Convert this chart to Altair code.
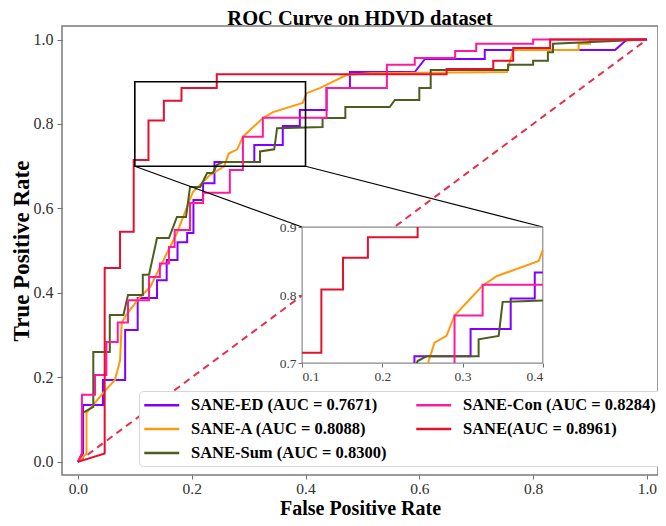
import altair as alt
import pandas as pd

TITLE = "ROC Curve on HDVD dataset"
X_TITLE = "False Positive Rate"
Y_TITLE = "True Positive Rate"

NAMES = ["SANE-ED (AUC = 0.7671)", "SANE-A (AUC = 0.8088)", "SANE-Sum (AUC = 0.8300)",
         "SANE-Con (AUC = 0.8284)", "SANE(AUC = 0.8961)"]
COLORS = ["#7F00FF", "#FF9A0F", "#4B5E1C", "#FF1A9C", "#E3102F"]

ed_x = [0.0, 0.009, 0.009, 0.044, 0.044, 0.083, 0.083, 0.105, 0.105, 0.139, 0.139, 0.156, 0.156, 0.175,
        0.175, 0.192, 0.192, 0.203, 0.203, 0.22, 0.22, 0.24, 0.24, 0.31, 0.31, 0.36, 0.36, 0.39, 0.39,
        0.437, 0.437, 0.478, 0.478, 0.592, 0.61, 0.715, 0.715, 0.944, 0.965, 1.0]
ed_y = [0.0, 0.02, 0.135, 0.135, 0.194, 0.194, 0.312, 0.312, 0.388, 0.388, 0.43, 0.43, 0.478, 0.478,
        0.52, 0.52, 0.542, 0.542, 0.62, 0.62, 0.66, 0.66, 0.71, 0.71, 0.75, 0.75, 0.795, 0.795, 0.833,
        0.833, 0.885, 0.885, 0.923, 0.923, 0.954, 0.954, 0.975, 0.975, 1.0, 1.0]

a_x = [0.0, 0.015, 0.015, 0.044, 0.065, 0.074, 0.077, 0.086, 0.109, 0.127, 0.139, 0.174, 0.202, 0.232,
       0.257, 0.265, 0.28, 0.29, 0.325, 0.343, 0.395, 0.402, 0.425, 0.472, 0.513, 0.754, 0.765, 0.88,
       0.88, 0.9, 0.9, 1.0]
a_y = [0.0, 0.02, 0.116, 0.163, 0.194, 0.24, 0.33, 0.35, 0.39, 0.414, 0.447, 0.542, 0.639, 0.679,
       0.70, 0.73, 0.74, 0.77, 0.814, 0.828, 0.85, 0.873, 0.885, 0.916, 0.92, 0.923, 0.975, 0.975,
       0.99, 0.99, 1.0, 1.0]

sum_x = [0.0, 0.007, 0.007, 0.027, 0.027, 0.056, 0.056, 0.08, 0.088, 0.114, 0.114, 0.125, 0.139, 0.16,
         0.174, 0.19, 0.197, 0.215, 0.227, 0.237, 0.244, 0.255, 0.32, 0.32, 0.345, 0.35, 0.43, 0.43,
         0.47, 0.47, 0.548, 0.557, 0.6, 0.6, 0.62, 0.62, 0.756, 0.756, 0.8, 0.8, 0.826, 0.826, 0.835,
         0.835, 1.0]
sum_y = [0.0, 0.02, 0.115, 0.13, 0.26, 0.26, 0.348, 0.348, 0.395, 0.395, 0.443, 0.443, 0.53, 0.53,
         0.58, 0.58, 0.651, 0.651, 0.684, 0.684, 0.703, 0.71, 0.71, 0.735, 0.74, 0.79, 0.793, 0.814,
         0.814, 0.84, 0.84, 0.857, 0.857, 0.885, 0.885, 0.928, 0.928, 0.94, 0.94, 0.95, 0.95, 0.97,
         0.97, 0.99, 1.0]

con_x = [0.0, 0.007, 0.007, 0.03, 0.03, 0.05, 0.05, 0.07, 0.07, 0.088, 0.088, 0.125, 0.125, 0.144,
         0.144, 0.16, 0.16, 0.17, 0.17, 0.197, 0.197, 0.22, 0.22, 0.267, 0.267, 0.29, 0.29, 0.325,
         0.325, 0.437, 0.437, 0.543, 0.543, 0.592, 0.592, 0.663, 0.663, 0.70, 0.70, 0.80, 0.80, 1.0]
con_y = [0.0, 0.02, 0.159, 0.159, 0.206, 0.206, 0.284, 0.284, 0.33, 0.33, 0.383, 0.383, 0.438, 0.438,
         0.47, 0.47, 0.509, 0.509, 0.549, 0.549, 0.613, 0.613, 0.637, 0.637, 0.691, 0.691, 0.77, 0.77,
         0.815, 0.815, 0.885, 0.885, 0.94, 0.94, 0.956, 0.956, 0.973, 0.973, 0.99, 0.99, 1.0, 1.0]

sane_x = [0.0, 0.047, 0.047, 0.074, 0.074, 0.098, 0.098, 0.124, 0.124, 0.151, 0.151, 0.182, 0.182,
          0.244, 0.244, 0.648, 0.648, 0.73, 0.73, 0.765, 0.765, 0.83, 0.83, 1.0]
sane_y = [0.0, 0.02, 0.459, 0.459, 0.545, 0.545, 0.715, 0.715, 0.808, 0.808, 0.855, 0.855, 0.885,
          0.885, 0.918, 0.918, 0.93, 0.93, 0.95, 0.95, 0.98, 0.98, 1.0, 1.0]

SERIES = [(NAMES[0], ed_x, ed_y), (NAMES[1], a_x, a_y), (NAMES[2], sum_x, sum_y),
          (NAMES[3], con_x, con_y), (NAMES[4], sane_x, sane_y)]

DIAG_X = [0.0, 1.0]
DIAG_Y = [0.0, 1.0]

# ---- layout (plot area in pixels, axis domains) ----
W, H = 596, 449
X_DOM = [-0.028, 1.0195]
Y_DOM = [-0.031, 1.032]
ZOOM = (0.1, 0.4, 0.7, 0.9)              # zoomed region (data units)
INSET = (0.394, 0.817, 0.234, 0.556)     # where the inset sits, in main-axis units
FONT = "Liberation Serif"


def px_x(v):
    return (v - X_DOM[0]) / (X_DOM[1] - X_DOM[0]) * W


def px_y(v):
    return H - (v - Y_DOM[0]) / (Y_DOM[1] - Y_DOM[0]) * H


def clip_polyline(xs, ys, box):
    """Clip a polyline to a rectangle (Liang-Barsky), returning contiguous pieces."""
    x0, x1, y0, y1 = box
    pieces, cur, last = [], [], None
    for i in range(len(xs) - 1):
        ax, ay, bx, by = xs[i], ys[i], xs[i + 1], ys[i + 1]
        dx, dy = bx - ax, by - ay
        t0, t1, ok = 0.0, 1.0, True
        for p, q in ((-dx, ax - x0), (dx, x1 - ax), (-dy, ay - y0), (dy, y1 - ay)):
            if p == 0:
                if q < 0:
                    ok = False
                    break
            else:
                r = q / p
                if p < 0:
                    t0 = max(t0, r)
                else:
                    t1 = min(t1, r)
        if not ok or t0 > t1:
            continue
        s = (ax + t0 * dx, ay + t0 * dy)
        e = (ax + t1 * dx, ay + t1 * dy)
        if last is not None and abs(last[0] - s[0]) < 1e-9 and abs(last[1] - s[1]) < 1e-9:
            cur.append(e)
        else:
            if cur:
                pieces.append(cur)
            cur = [s, e]
        last = e
    if cur:
        pieces.append(cur)
    return pieces


main_rows, inset_rows = [], []
for name, xs, ys in SERIES:
    for i, (x, y) in enumerate(zip(xs, ys)):
        main_rows.append({"series": name, "i": i, "x": x, "y": y})
    k = 0
    for pi, piece in enumerate(clip_polyline(xs, ys, ZOOM)):
        for (x, y) in piece:
            inset_rows.append({"series": name, "piece": pi, "i": k, "x": x, "y": y})
            k += 1
df_main = pd.DataFrame(main_rows)
df_inset = pd.DataFrame(inset_rows)

color = alt.Color(
    "series:N",
    scale=alt.Scale(domain=NAMES, range=COLORS),
    legend=alt.Legend(
        orient="none", legendX=77, legendY=365, columns=2, title=None,
        symbolType="M-1,0H3", symbolSize=306, symbolStrokeWidth=2.5,
        labelFont=FONT, labelFontWeight="bold", labelFontSize=16.5, labelColor="black",
        labelOffset=28, labelLimit=400, fillColor="white", strokeColor="#d6d6d6",
        cornerRadius=4, padding=4, rowPadding=5, columnPadding=24,
    ),
)

axis_common = dict(values=[0, 0.2, 0.4, 0.6, 0.8, 1.0], format=".1f", grid=False, domain=False,
                   labelFont=FONT, labelColor="#303030", tickColor="#707070",
                   titleFont=FONT, titleFontWeight="bold", titleColor="black")
X = alt.X("x:Q", scale=alt.Scale(domain=X_DOM, nice=False, zero=False),
          axis=alt.Axis(title=X_TITLE, titleFontSize=20, titlePadding=1.5, labelFontSize=15.5,
                        tickSize=4, labelPadding=2, **axis_common))
Y = alt.Y("y:Q", scale=alt.Scale(domain=Y_DOM, nice=False, zero=False),
          axis=alt.Axis(title=Y_TITLE, titleFontSize=23, titlePadding=0, labelFontSize=16,
                        tickSize=5, labelPadding=4, **axis_common))

layers = []
for name, xs, ys in SERIES:
    layers.append(
        alt.Chart(df_main[df_main.series == name]).mark_line(strokeWidth=2).encode(
            x=X, y=Y, color=color, order="i:Q")
    )

diag = alt.Chart(pd.DataFrame({"x": DIAG_X, "y": DIAG_Y})).mark_line(
    color="#E5304C", strokeWidth=2, strokeDash=[7, 5]).encode(x=X, y=Y)

zoom_box = alt.Chart(pd.DataFrame({"x": [ZOOM[0]], "x2": [ZOOM[1]], "y": [ZOOM[2]], "y2": [ZOOM[3]]})).mark_rect(
    fillOpacity=0, stroke="black", strokeWidth=1.6).encode(x=X, x2="x2:Q", y=Y, y2="y2:Q")

connectors = alt.Chart(pd.DataFrame({
    "x": [ZOOM[0], ZOOM[1]], "y": [ZOOM[2], ZOOM[2]],
    "x2": [INSET[0], INSET[1]], "y2": [INSET[3], INSET[3]],
})).mark_rule(color="black", strokeWidth=1.1).encode(x=X, y=Y, x2="x2:Q", y2="y2:Q")

main = alt.layer(diag, *layers, zoom_box, connectors)

# ---- inset ----
ix0, ix1 = px_x(INSET[0]), px_x(INSET[1])
iy0, iy1 = px_y(INSET[2]), px_y(INSET[3])
inset_axis = dict(format=".1f", grid=False, domain=False, labelFont=FONT, labelFontSize=13.5,
                  labelColor="#404040", tickColor="#707070", tickSize=4, labelPadding=2, title=None)
IX = alt.X("x:Q", scale=alt.Scale(domain=[ZOOM[0], ZOOM[1]], range=[ix0, ix1], nice=False, zero=False),
           axis=alt.Axis(orient="bottom", offset=iy0 - H, values=[0.1, 0.2, 0.3, 0.4], **inset_axis))
IY = alt.Y("y:Q", scale=alt.Scale(domain=[ZOOM[2], ZOOM[3]], range=[iy0, iy1], nice=False, zero=False),
           axis=alt.Axis(orient="left", offset=-ix0, values=[0.7, 0.8, 0.9], **inset_axis))

inset_bg = alt.Chart(pd.DataFrame({"x": [ZOOM[0]], "x2": [ZOOM[1]], "y": [ZOOM[2]], "y2": [ZOOM[3]]})).mark_rect(
    fill="white", stroke="#8a8a8a", strokeWidth=1.2).encode(x=IX, x2="x2:Q", y=IY, y2="y2:Q")
inset_layers = [inset_bg]
for name, xs, ys in SERIES:
    inset_layers.append(
        alt.Chart(df_inset[df_inset.series == name]).mark_line(strokeWidth=2).encode(
            x=IX, y=IY, color=color, detail="piece:N", order="i:Q")
    )
inset = alt.layer(*inset_layers)

chart = alt.layer(main, inset).resolve_scale(x="independent", y="independent").properties(
    width=W, height=H,
    title=alt.TitleParams(TITLE, font=FONT, fontSize=20.5, fontWeight="bold", color="black",
                          anchor="middle", frame="group", offset=-3),
    autosize=alt.AutoSizeParams(type="none"),
    padding={"left": 54, "top": 18, "right": 0, "bottom": 43},
).configure_view(stroke="#7a7a7a", strokeWidth=1.5)

chart.save("out.html", embed_options={"renderer": "svg", "actions": False})
